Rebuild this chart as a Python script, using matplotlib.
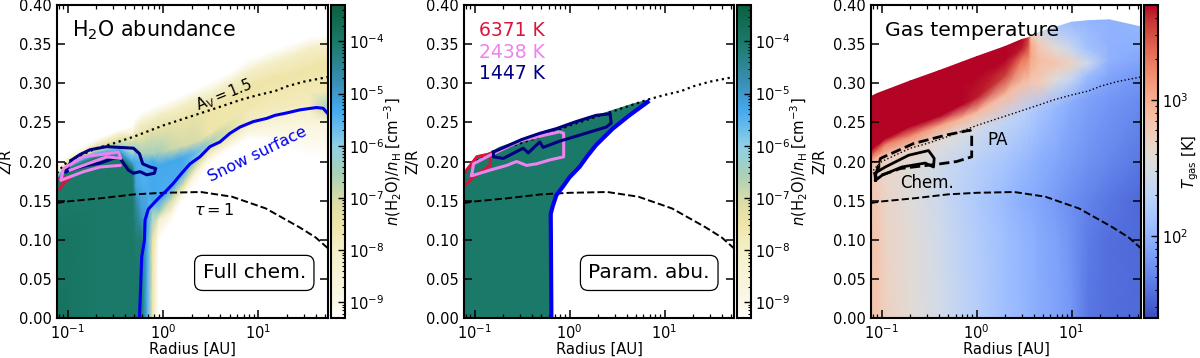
import numpy as np
import matplotlib
matplotlib.use('Agg')
import matplotlib.pyplot as plt
from matplotlib.colors import LinearSegmentedColormap, LogNorm
from matplotlib.ticker import LogLocator, NullFormatter

# curves shared by all panels
av_r = [0.077, 0.09, 0.1, 0.15, 0.2, 0.3, 0.5, 1, 2, 3, 5, 6.6, 10, 15, 20, 30, 54]
av_z = [0.185, 0.195, 0.2, 0.21, 0.217, 0.223, 0.232, 0.246, 0.258, 0.265, 0.274, 0.279, 0.285, 0.29, 0.296, 0.302, 0.308]
tau_r = [0.077, 0.1, 0.22, 0.5, 1, 2.5, 5.3, 12, 27, 40, 54]
tau_z = [0.147, 0.149, 0.153, 0.158, 0.16, 0.161, 0.155, 0.14, 0.116, 0.103, 0.089]

# panel 1, full chemistry
snow1_r = [0.565, 0.583, 0.597, 0.637, 0.647, 0.7, 0.79, 0.93, 1.09, 1.28, 1.57, 1.92, 2.44, 3.11, 3.96, 5.04, 6.42, 8.87, 12.2, 15, 19.8, 27.4, 40.9, 48, 54]
snow1_z = [0, 0.044, 0.078, 0.099, 0.125, 0.139, 0.146, 0.155, 0.163, 0.172, 0.185, 0.197, 0.206, 0.219, 0.225, 0.236, 0.244, 0.251, 0.255, 0.259, 0.262, 0.266, 0.269, 0.268, 0.261]
stray_r = [0.0775, 0.0775]
stray_z = [0.255, 0.28]
navy1_r = [0.095, 0.11, 0.135, 0.171, 0.256, 0.354, 0.489, 0.565, 0.612, 0.731, 0.838, 0.811, 0.674, 0.574, 0.489, 0.433, 0.354, 0.301, 0.218, 0.158, 0.119, 0.095]
navy1_z = [0.187, 0.202, 0.209, 0.215, 0.219, 0.218, 0.217, 0.21, 0.197, 0.193, 0.191, 0.185, 0.183, 0.187, 0.185, 0.189, 0.204, 0.204, 0.198, 0.195, 0.191, 0.187]
pink1_r = [0.354, 0.218, 0.146, 0.0846, 0.09, 0.146, 0.34, 0.36, 0.256, 0.106]
pink1_z = [0.195, 0.193, 0.187, 0.176, 0.191, 0.206, 0.212, 0.204, 0.206, 0.189]
red1_r = [0.082, 0.09, 0.106, 0.082]
red1_z = [0.165, 0.172, 0.18, 0.178]

field1_r = [0.077, 0.1, 0.2, 0.35, 0.48, 0.52, 0.6, 0.68, 0.78, 0.9, 1.2, 1.6, 2.2, 3, 5, 8, 13, 22, 35, 54]
field1_z = [
    [0, 0.05, 0.1, 0.15, 0.175, 0.18, 0.183, 0.186, 0.189, 0.2],
    [0, 0.05, 0.1, 0.15, 0.19, 0.195, 0.198, 0.202, 0.205, 0.21],
    [0, 0.05, 0.1, 0.15, 0.205, 0.21, 0.215, 0.222, 0.226, 0.23],
    [0, 0.05, 0.1, 0.15, 0.205, 0.215, 0.22, 0.23, 0.237, 0.24],
    [0, 0.05, 0.1, 0.15, 0.19, 0.2, 0.21, 0.225, 0.235, 0.245],
    [0, 0.05, 0.1, 0.15, 0.17, 0.2, 0.215, 0.23, 0.245, 0.255],
    [0, 0.05, 0.1, 0.13, 0.17, 0.2, 0.21, 0.23, 0.25, 0.262],
    [0, 0.05, 0.1, 0.13, 0.17, 0.2, 0.21, 0.235, 0.252, 0.265],
    [0, 0.05, 0.1, 0.135, 0.15, 0.2, 0.21, 0.24, 0.255, 0.27],
    [0, 0.1, 0.125, 0.135, 0.15, 0.195, 0.212, 0.24, 0.26, 0.272],
    [0, 0.12, 0.135, 0.15, 0.165, 0.2, 0.215, 0.245, 0.265, 0.278],
    [0, 0.15, 0.16, 0.17, 0.185, 0.205, 0.22, 0.25, 0.272, 0.285],
    [0, 0.17, 0.185, 0.195, 0.205, 0.212, 0.225, 0.26, 0.28, 0.292],
    [0, 0.195, 0.205, 0.213, 0.22, 0.225, 0.235, 0.265, 0.285, 0.3],
    [0, 0.215, 0.222, 0.23, 0.238, 0.245, 0.255, 0.28, 0.3, 0.313],
    [0, 0.228, 0.235, 0.243, 0.25, 0.26, 0.27, 0.295, 0.315, 0.33],
    [0, 0.225, 0.235, 0.245, 0.255, 0.265, 0.275, 0.305, 0.325, 0.34],
    [0, 0.215, 0.23, 0.25, 0.262, 0.272, 0.285, 0.31, 0.335, 0.35],
    [0, 0.205, 0.23, 0.25, 0.265, 0.275, 0.29, 0.32, 0.345, 0.358],
    [0, 0.2, 0.23, 0.25, 0.262, 0.27, 0.29, 0.325, 0.35, 0.362],
]
field1_logn = [
    [-3.8, -3.9, -3.9, -4, -4, -5.5, -7, -8, -9, -10],
    [-3.9, -3.9, -3.9, -4, -4, -5.5, -7, -8, -9, -10],
    [-4, -4, -4, -4, -4, -5.3, -7, -7.8, -9, -10],
    [-4, -4, -4, -4, -4, -5.4, -6.5, -7.5, -8.5, -10],
    [-4, -4, -4, -4, -4, -5.3, -6, -7, -8, -10],
    [-4, -4, -4.1, -4.6, -5.2, -5.4, -6.3, -7.3, -8.3, -10],
    [-4, -4.1, -4.1, -5, -5.4, -5.5, -6.5, -7.3, -8, -10],
    [-5.4, -5.4, -5.3, -5.2, -5.4, -5.5, -6.5, -7.3, -8, -10],
    [-7.6, -7.5, -7.5, -6.3, -5.3, -5.3, -6.5, -7.3, -8, -10],
    [-10, -9.5, -8, -6.5, -5.4, -5.3, -6.5, -7.3, -8, -10],
    [-10, -10, -8.5, -7, -5.4, -5.3, -6.8, -7.3, -8, -10],
    [-10, -10, -8.5, -7, -5.4, -5.3, -7, -7.4, -8, -10],
    [-10, -10, -8.5, -7, -5.8, -5.6, -7, -7.4, -8, -10],
    [-10, -10, -8.5, -7.5, -6.5, -6.5, -7.5, -7.5, -8, -10],
    [-10, -10, -8.8, -7.8, -7.3, -7.2, -7.6, -7.5, -8, -10],
    [-10, -10, -9, -8.5, -7.8, -7.8, -7.6, -7.5, -8, -10],
    [-10, -10, -9, -8.6, -8.2, -7.8, -7.7, -7.5, -8, -10],
    [-10, -10, -9, -8.6, -8.2, -7.8, -7.7, -7.5, -8, -10],
    [-10, -10, -9, -8.6, -8, -7.8, -7.7, -7.5, -8, -10],
    [-10, -10, -9, -8.6, -7, -6.5, -7.7, -7.5, -8, -10],
]

# panel 2, parametrized abundance
top2_r = [0.077, 0.105, 0.133, 0.184, 0.324, 0.57, 0.92, 1.9, 2.85, 4.6, 6.63]
top2_z = [0.185, 0.208, 0.21, 0.219, 0.229, 0.24, 0.246, 0.259, 0.266, 0.274, 0.279]
snow2_r = [0.642, 0.632, 0.66, 0.725, 0.85, 1.0, 1.27, 1.56, 1.9, 2.85, 4.26, 6.63]
snow2_z = [0, 0.133, 0.142, 0.157, 0.168, 0.18, 0.193, 0.208, 0.221, 0.242, 0.259, 0.276]
navy2_r = [0.157, 0.157, 0.2, 0.324, 0.366, 0.484, 0.525, 0.785, 2.43, 2.74, 2.67, 1.9, 1.17, 0.725, 0.484, 0.311, 0.157]
navy2_z = [0.212, 0.206, 0.204, 0.217, 0.211, 0.225, 0.218, 0.226, 0.244, 0.249, 0.261, 0.259, 0.251, 0.242, 0.236, 0.228, 0.212]
pink2_r = [0.093, 0.097, 0.145, 0.311, 0.785, 0.865, 0.865, 0.617, 0.447, 0.351, 0.276, 0.217, 0.145, 0.097, 0.093]
pink2_z = [0.1825, 0.197, 0.208, 0.227, 0.238, 0.236, 0.206, 0.202, 0.197, 0.195, 0.2, 0.195, 0.189, 0.1825, 0.1825]
red2_r = [0.077, 0.097, 0.145, 0.147, 0.105, 0.082, 0.077]
red2_z = [0.168, 0.18, 0.195, 0.21, 0.206, 0.189, 0.185]
temp_labels = ['6371 K', '2438 K', '1447 K']
temp_colors = ['#dc143c', '#ee82ee', '#000080']

# panel 3, gas temperature
chem_r = [0.086, 0.0845, 0.109, 0.192, 0.311, 0.357, 0.351, 0.287, 0.163, 0.101, 0.086]
chem_z = [0.176, 0.185, 0.193, 0.208, 0.214, 0.204, 0.193, 0.198, 0.193, 0.1825, 0.176]
pa_r = [0.086, 0.097, 0.217, 0.484, 0.851, 0.887, 0.887, 0.617, 0.412, 0.299, 0.157, 0.086]
pa_z = [0.1825, 0.204, 0.223, 0.234, 0.24, 0.236, 0.206, 0.2, 0.197, 0.195, 0.191, 0.18]
box_r = [0.08, 0.095, 0.095, 0.082]
box_z = [0.2, 0.2, 0.19, 0.185]

field3_r = [0.077, 0.09, 0.11, 0.2, 0.4, 0.7, 1, 2, 3, 3.5, 3.75, 4.5, 7, 10, 15, 25, 54]
field3_z = [
    [0, 0.1, 0.15, 0.19, 0.2, 0.21, 0.215, 0.25, 0.283],
    [0, 0.1, 0.15, 0.19, 0.205, 0.215, 0.222, 0.26, 0.287],
    [0, 0.1, 0.15, 0.19, 0.205, 0.222, 0.23, 0.26, 0.291],
    [0, 0.1, 0.15, 0.19, 0.215, 0.232, 0.245, 0.28, 0.303],
    [0, 0.1, 0.15, 0.19, 0.225, 0.245, 0.258, 0.29, 0.316],
    [0, 0.1, 0.15, 0.2, 0.235, 0.255, 0.273, 0.3, 0.327],
    [0, 0.1, 0.15, 0.2, 0.24, 0.262, 0.282, 0.31, 0.334],
    [0, 0.1, 0.15, 0.2, 0.25, 0.285, 0.31, 0.33, 0.347],
    [0, 0.1, 0.15, 0.2, 0.26, 0.3, 0.33, 0.345, 0.356],
    [0, 0.1, 0.15, 0.2, 0.265, 0.302, 0.333, 0.348, 0.358],
    [0, 0.1, 0.15, 0.2, 0.265, 0.302, 0.333, 0.348, 0.36],
    [0, 0.1, 0.15, 0.2, 0.265, 0.3, 0.33, 0.35, 0.365],
    [0, 0.1, 0.15, 0.2, 0.27, 0.305, 0.325, 0.345, 0.372],
    [0, 0.1, 0.15, 0.2, 0.275, 0.305, 0.325, 0.345, 0.378],
    [0, 0.1, 0.15, 0.2, 0.28, 0.31, 0.325, 0.345, 0.38],
    [0, 0.1, 0.15, 0.2, 0.28, 0.31, 0.33, 0.35, 0.381],
    [0, 0.1, 0.15, 0.2, 0.28, 0.31, 0.33, 0.35, 0.372],
]
field3_t = [
    [700, 700, 650, 600, 1000, 3000, 5000, 5000, 5000],
    [650, 650, 600, 560, 900, 2500, 5000, 5000, 5000],
    [520, 500, 480, 470, 550, 1800, 5000, 5000, 5000],
    [400, 390, 370, 380, 500, 1500, 5000, 5000, 5000],
    [290, 280, 260, 270, 380, 1100, 5000, 5000, 5000],
    [210, 200, 190, 210, 330, 900, 5000, 5000, 5000],
    [175, 170, 160, 185, 280, 800, 4500, 5000, 5000],
    [125, 125, 115, 140, 210, 800, 3500, 5000, 5000],
    [110, 105, 95, 115, 190, 750, 2000, 4500, 5000],
    [102, 100, 90, 110, 175, 700, 1800, 3000, 3500],
    [100, 98, 88, 105, 165, 650, 1100, 1100, 700],
    [90, 88, 82, 95, 140, 600, 800, 600, 350],
    [78, 75, 68, 80, 110, 350, 650, 380, 150],
    [65, 62, 58, 70, 90, 220, 500, 230, 115],
    [42, 45, 50, 60, 75, 120, 260, 130, 105],
    [38, 38, 42, 52, 65, 80, 100, 100, 100],
    [36, 36, 35, 42, 55, 65, 80, 95, 105],
]

abu_ticks = [1e-9, 1e-8, 1e-7, 1e-6, 1e-5, 1e-4]
temp_ticks = [100, 1000]

abu_cmap = LinearSegmentedColormap.from_list('abu', [
    (0.0, '#ffffff'), (0.05, '#fbf8e8'), (0.22, '#f5efc8'), (0.30, '#efe5a8'),
    (0.38, '#d8dca8'), (0.46, '#a8d0b8'), (0.55, '#8fd0e6'), (0.66, '#45aaf0'),
    (0.75, '#3a90b8'), (0.88, '#1b7a6a'), (1.0, '#0b6040')])
abu_norm = LogNorm(5e-10, 5e-4)
temp_norm = LogNorm(25, 5000)
under_cmap = abu_cmap.with_extremes(under='white')


def make_axes(left, right, bar_left, bar_right):
    ax = fig.add_axes([left / 1200, 1 - 318 / 358, (right - left) / 1200, 313 / 358])
    cax = fig.add_axes([bar_left / 1200, 1 - 318 / 358, (bar_right - bar_left) / 1200, 313 / 358])
    return ax, cax


def style_axes(ax):
    ax.set_xscale('log')
    ax.set_xlim(0.077, 54)
    ax.set_ylim(0, 0.4)
    ax.set_yticks(np.arange(0, 0.41, 0.05))
    ax.tick_params(which='both', direction='in', top=True, right=True, labelsize=10.5, pad=4)
    ax.tick_params(which='major', length=5.5, width=1.1)
    ax.tick_params(which='minor', length=3, width=0.9)
    ax.set_xlabel('Radius [AU]', fontsize=10.6)
    ax.xaxis.set_label_coords(0.5, -0.077)
    ax.set_ylabel('Z/R', fontsize=10.6)
    ax.yaxis.set_label_coords(-0.16, 0.5)
    for s in ax.spines.values():
        s.set_linewidth(1.5)


def style_bar(cb, label, ticks, label_x):
    cb.set_ticks(ticks)
    cb.ax.yaxis.set_minor_locator(LogLocator(base=10, subs=np.arange(2, 10), numticks=12))
    cb.ax.yaxis.set_minor_formatter(NullFormatter())
    cb.ax.tick_params(which='both', direction='in', right=True, labelsize=10.5, pad=3)
    cb.ax.tick_params(which='major', length=5, width=1)
    cb.ax.tick_params(which='minor', length=2.5, width=0.8)
    cb.set_label(label, fontsize=10.6)
    cb.ax.yaxis.set_label_coords(label_x, 0.5)
    cb.outline.set_linewidth(1.5)


def draw_field(ax, radii, z_table, values, cmap, norm):
    x = np.tile(np.array(radii)[:, None], (1, len(z_table[0])))
    return ax.pcolormesh(x, np.array(z_table), np.array(values), cmap=cmap, norm=norm,
                         shading='gouraud', rasterized=True)


def draw_curves(ax, dotted_lw=1.6):
    ax.plot(av_r, av_z, color='k', ls=':', lw=dotted_lw)
    ax.plot(tau_r, tau_z, color='k', ls='--', lw=1.4)


def tag(ax, text, x):
    ax.text(x, 0.144, text, transform=ax.transAxes, fontsize=14.5, ha='center', va='center',
            bbox=dict(boxstyle='round,pad=0.4', fc='white', ec='k', lw=0.9))


fig = plt.figure(figsize=(12, 3.58), dpi=100)
abu_label = r'$n(\mathrm{H_2O})/n_\mathrm{H}$ [cm$^{-3}$]'

# left panel
ax1, cax1 = make_axes(57, 328, 331, 345)
mesh1 = draw_field(ax1, field1_r, field1_z, 10.0 ** np.array(field1_logn), under_cmap, abu_norm)
draw_curves(ax1)
ax1.plot(red1_r, red1_z, color=temp_colors[0], lw=2.2)
ax1.plot(navy1_r, navy1_z, color=temp_colors[2], lw=2.2)
ax1.plot(pink1_r, pink1_z, color=temp_colors[1], lw=2.2)
ax1.plot(snow1_r, snow1_z, color='#0000ee', lw=2.2)
ax1.plot(stray_r, stray_z, color='#0000ee', lw=1.2)
style_axes(ax1)
ax1.text(0.055, 0.92, r'H$_2$O abundance', transform=ax1.transAxes, fontsize=14.9, va='center')
ax1.text(4.33, 0.285, r'A$_\mathrm{V}=1.5$', fontsize=10.5, rotation=22, ha='center', va='center')
ax1.text(9.7, 0.209, 'Snow surface', color='#0000ee', fontsize=11.5, rotation=26, ha='center', va='center')
ax1.text(3.4, 0.138, r'$\tau=1$', fontsize=11.5, ha='center', va='center')
tag(ax1, 'Full chem.', 0.728)
cb1 = fig.colorbar(mesh1, cax=cax1)
style_bar(cb1, abu_label, abu_ticks, 3.7)

# middle panel
ax2, cax2 = make_axes(464, 734, 737, 751)
mesh2 = ax2.pcolormesh([0.01, 0.02], [0, 1], [[1e-4]], cmap=abu_cmap, norm=abu_norm)
outline_r = [0.077] + top2_r + snow2_r[::-1] + [0.077]
outline_z = [0] + top2_z + snow2_z[::-1] + [0]
ax2.fill(outline_r, outline_z, color=abu_cmap(abu_norm(1e-4)), lw=0)
draw_curves(ax2)
ax2.plot(red2_r, red2_z, color=temp_colors[0], lw=2.2)
ax2.plot(pink2_r, pink2_z, color=temp_colors[1], lw=2.2)
ax2.plot(navy2_r, navy2_z, color=temp_colors[2], lw=2.2)
ax2.plot(snow2_r, snow2_z, color='#0000ee', lw=3)
style_axes(ax2)
for i in range(3):
    ax2.text(0.055, 0.918 - 0.069 * i, temp_labels[i], color=temp_colors[i], transform=ax2.transAxes,
             fontsize=13.5, va='center')
tag(ax2, 'Param. abu.', 0.686)
cb2 = fig.colorbar(mesh2, cax=cax2)
style_bar(cb2, abu_label, abu_ticks, 3.7)

# right panel
ax3, cax3 = make_axes(871, 1141, 1144, 1158)
mesh3 = draw_field(ax3, field3_r, field3_z, field3_t, 'coolwarm', temp_norm)
draw_curves(ax3, dotted_lw=1)
ax3.plot(box_r, box_z, color='k', lw=0.8)
ax3.plot(pa_r, pa_z, color='k', ls='--', lw=2)
ax3.plot(chem_r, chem_z, color='k', lw=2)
style_axes(ax3)
ax3.text(0.052, 0.92, 'Gas temperature', transform=ax3.transAxes, fontsize=14.7, va='center')
ax3.text(1.65, 0.228, 'PA', fontsize=12, ha='center', va='center')
ax3.text(0.3, 0.172, 'Chem.', fontsize=12, ha='center', va='center')
cb3 = fig.colorbar(mesh3, cax=cax3)
style_bar(cb3, r'$T_\mathrm{gas}$ [K]', temp_ticks, 2.6)

fig.savefig('out.png', dpi=100)
